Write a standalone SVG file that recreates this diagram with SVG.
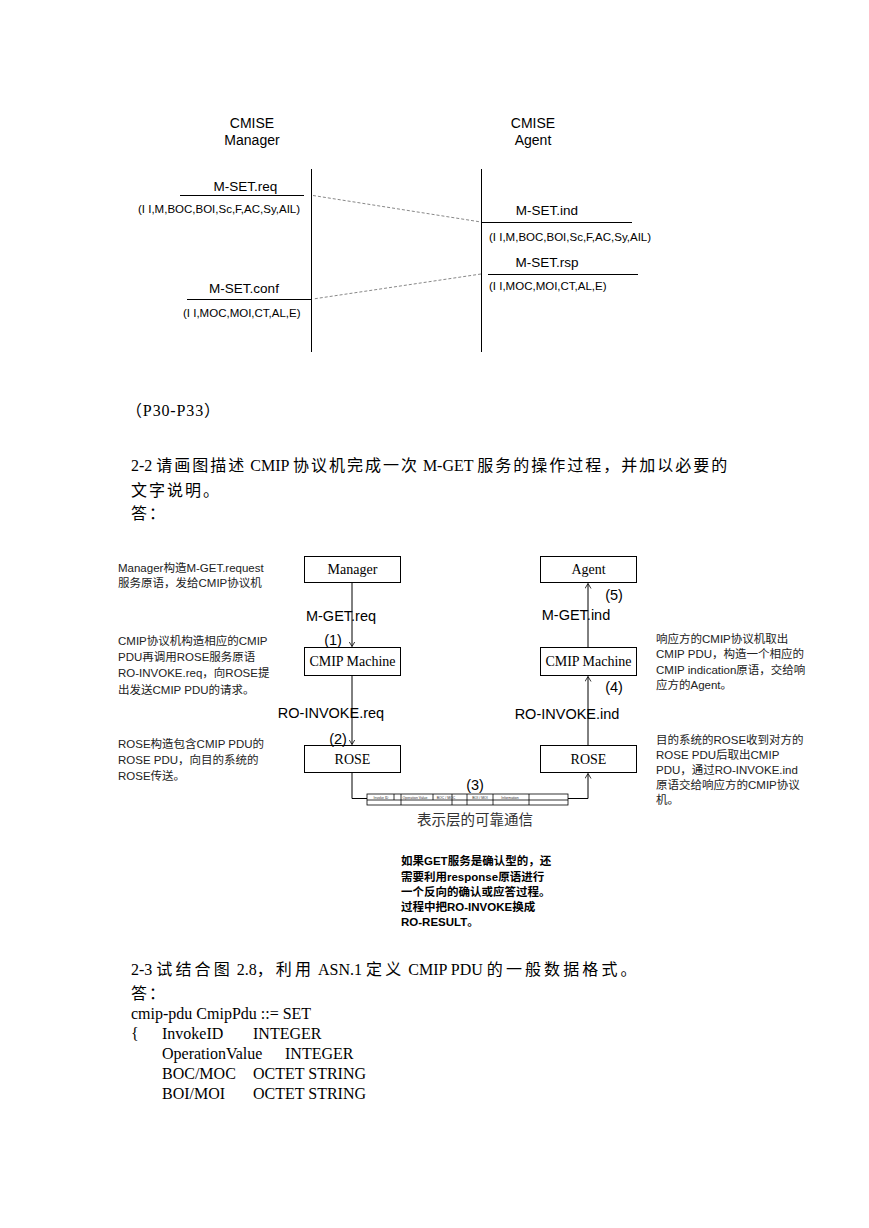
<svg xmlns="http://www.w3.org/2000/svg" width="869" height="1228" viewBox="0 0 869 1228">
<style>
.sa{font-family:"Liberation Sans","Noto Sans CJK SC",sans-serif;fill:#000}
.sr{font-family:"Liberation Serif","Noto Sans CJK SC",serif;fill:#000}
.t14{font-size:14px}
.t135{font-size:13.5px}
.t115{font-size:11.5px}
.t16{font-size:16px}
.cj{letter-spacing:2px}
.cj2{letter-spacing:3.1px}
.note{font-family:"Liberation Sans","Noto Sans CJK SC",sans-serif;font-size:11.5px;fill:#222}
.bold{font-family:"Liberation Sans","Noto Sans CJK SC",sans-serif;font-size:11.5px;font-weight:bold;fill:#000}
.ln{stroke:#000;stroke-width:1;fill:none}
.dash{stroke:#888;stroke-width:1;stroke-dasharray:3,2;fill:none}
.box{fill:#fff;stroke:#000;stroke-width:1}
.bt{font-family:"Liberation Serif","Noto Sans CJK SC",serif;font-size:14px;fill:#000;text-anchor:middle}
.lbl{font-family:"Liberation Sans",sans-serif;font-size:14.5px;fill:#000}
.pdu{font-family:"Liberation Sans",sans-serif;font-size:3.5px;fill:#333;text-anchor:middle}
.thin{stroke:#000;stroke-width:0.8;fill:none}
</style>
<defs>
<marker id="arr" markerUnits="userSpaceOnUse" markerWidth="8" markerHeight="8" refX="5" refY="3" orient="auto">
<path d="M0,0 L5,3 L0,6" fill="none" stroke="#000" stroke-width="0.8"/>
</marker>
</defs>
<rect width="869" height="1228" fill="#fff"/>

<!-- Sequence diagram -->
<g id="seq-manager">
<text class="sa t14" x="252" y="128" text-anchor="middle">CMISE</text>
<text class="sa t14" x="252" y="145" text-anchor="middle">Manager</text>
<line class="ln" x1="311.5" y1="169" x2="311.5" y2="352"/>
</g>
<g id="seq-agent">
<text class="sa t14" x="533" y="128" text-anchor="middle">CMISE</text>
<text class="sa t14" x="533" y="145" text-anchor="middle">Agent</text>
<line class="ln" x1="481.5" y1="169" x2="481.5" y2="352"/>
</g>
<g id="mset-req">
<text class="sa t135" x="245.5" y="191" text-anchor="middle">M-SET.req</text>
<line class="ln" x1="180" y1="195.5" x2="304" y2="195.5"/>
<text class="sa t115" x="138" y="213">(I I,M,BOC,BOI,Sc,F,AC,Sy,AIL)</text>
</g>
<g id="mset-ind">
<text class="sa t135" x="547" y="215" text-anchor="middle">M-SET.ind</text>
<line class="ln" x1="481" y1="222.5" x2="632" y2="222.5"/>
<text class="sa t115" x="489" y="241">(I I,M,BOC,BOI,Sc,F,AC,Sy,AIL)</text>
</g>
<g id="mset-rsp">
<text class="sa t135" x="547" y="267" text-anchor="middle">M-SET.rsp</text>
<line class="ln" x1="488" y1="274.5" x2="638" y2="274.5"/>
<text class="sa t115" x="489" y="290">(I I,MOC,MOI,CT,AL,E)</text>
</g>
<g id="mset-conf">
<text class="sa t135" x="244" y="293" text-anchor="middle">M-SET.conf</text>
<line class="ln" x1="187" y1="299.5" x2="311" y2="299.5"/>
<text class="sa t115" x="183" y="317">(I I,MOC,MOI,CT,AL,E)</text>
</g>
<g id="seq-connectors">
<line class="dash" x1="313" y1="195.5" x2="481" y2="222"/>
<line class="dash" x1="481" y1="274" x2="313" y2="299"/>
</g>

<!-- Text -->
<g id="text-mid">
<text class="sr t16" x="126" y="416" textLength="94" lengthAdjust="spacing">（P30-P33）</text>
<text class="sr t16" x="131" y="471">2-2 <tspan class="cj">请画图描述</tspan> CMIP <tspan class="cj">协议机完成一次</tspan> M-GET <tspan class="cj">服务的操作过程，并加以必要的</tspan></text>
<text class="sr t16 cj" x="131" y="496">文字说明。</text>
<text class="sr t16 cj" x="131" y="519">答：</text>
</g>

<!-- CMIP flow diagram -->
<g id="connectors">
<line class="ln" x1="352" y1="583" x2="352" y2="646.5" marker-end="url(#arr)"/>
<line class="ln" x1="352" y1="676" x2="352" y2="744.5" marker-end="url(#arr)"/>
<path class="ln" d="M352,773 V798.5 H367"/>
<path class="ln" d="M568,798.5 H588 V773.5" marker-end="url(#arr)"/>
<line class="ln" x1="588" y1="745" x2="588" y2="676.5" marker-end="url(#arr)"/>
<line class="ln" x1="588" y1="647" x2="588" y2="583.5" marker-end="url(#arr)"/>
</g>
<g id="node-manager">
<rect class="box" x="304.5" y="556.5" width="96" height="26"/>
<text class="bt" x="352.5" y="574">Manager</text>
</g>
<g id="node-cmip-left">
<rect class="box" x="304.5" y="647.5" width="96" height="28"/>
<text class="bt" x="352.5" y="666">CMIP Machine</text>
</g>
<g id="node-rose-left">
<rect class="box" x="304.5" y="745.5" width="96" height="27"/>
<text class="bt" x="352.5" y="764">ROSE</text>
</g>
<g id="node-agent">
<rect class="box" x="540.5" y="556.5" width="96" height="26"/>
<text class="bt" x="588.5" y="574">Agent</text>
</g>
<g id="node-cmip-right">
<rect class="box" x="540.5" y="647.5" width="96" height="28"/>
<text class="bt" x="588.5" y="666">CMIP Machine</text>
</g>
<g id="node-rose-right">
<rect class="box" x="540.5" y="745.5" width="96" height="27"/>
<text class="bt" x="588.5" y="764">ROSE</text>
</g>
<g id="labels">
<text class="lbl" x="341" y="621" text-anchor="middle">M-GET.req</text>
<text class="lbl" x="333" y="645" text-anchor="middle">(1)</text>
<text class="lbl" x="331" y="718" text-anchor="middle">RO-INVOKE.req</text>
<text class="lbl" x="338" y="744" text-anchor="middle">(2)</text>
<text class="lbl" x="614" y="600" text-anchor="middle">(5)</text>
<text class="lbl" x="576" y="620" text-anchor="middle">M-GET.ind</text>
<text class="lbl" x="614" y="692" text-anchor="middle">(4)</text>
<text class="lbl" x="567" y="719" text-anchor="middle">RO-INVOKE.ind</text>
<text class="lbl" x="475" y="790" text-anchor="middle">(3)</text>
</g>
<g id="pdu">
<rect class="thin" x="367" y="794" width="201" height="11"/>
<line class="thin" x1="367" y1="800" x2="568" y2="800"/>
<line class="thin" x1="394" y1="794" x2="394" y2="800"/>
<line class="thin" x1="401" y1="794" x2="401" y2="805"/>
<line class="thin" x1="433" y1="794" x2="433" y2="800"/>
<line class="thin" x1="452" y1="794" x2="452" y2="805"/>
<line class="thin" x1="467" y1="794" x2="467" y2="805"/>
<line class="thin" x1="493" y1="794" x2="493" y2="805"/>
<line class="thin" x1="529" y1="794" x2="529" y2="805"/>
<text class="pdu" x="381" y="798.5">Invoke ID</text>
<text class="pdu" x="415" y="798.5">Operation Value</text>
<text class="pdu" x="446" y="798.5">BOC / MOC</text>
<text class="pdu" x="480" y="798.5">BOI / MOI</text>
<text class="pdu" x="510" y="798.5">Information</text>
</g>
<text class="sr" x="475" y="825" text-anchor="middle" style="font-size:14.5px;fill:#333">表示层的可靠通信</text>

<g id="notes-left">
<text class="note" x="118" y="572">Manager构造M-GET.request</text>
<text class="note" x="118" y="587">服务原语，发给CMIP协议机</text>
<text class="note" x="118" y="645">CMIP协议机构造相应的CMIP</text>
<text class="note" x="118" y="661">PDU再调用ROSE服务原语</text>
<text class="note" x="118" y="677">RO-INVOKE.req，向ROSE提</text>
<text class="note" x="118" y="694">出发送CMIP PDU的请求。</text>
<text class="note" x="118" y="748">ROSE构造包含CMIP PDU的</text>
<text class="note" x="118" y="764">ROSE PDU，向目的系统的</text>
<text class="note" x="118" y="780">ROSE传送。</text>
</g>
<g id="notes-right">
<text class="note" x="656" y="643">响应方的CMIP协议机取出</text>
<text class="note" x="656" y="658">CMIP PDU，构造一个相应的</text>
<text class="note" x="656" y="674">CMIP indication原语，交给响</text>
<text class="note" x="656" y="689">应方的Agent。</text>
<text class="note" x="656" y="744">目的系统的ROSE收到对方的</text>
<text class="note" x="656" y="759">ROSE PDU后取出CMIP</text>
<text class="note" x="656" y="774">PDU，通过RO-INVOKE.ind</text>
<text class="note" x="656" y="789">原语交给响应方的CMIP协议</text>
<text class="note" x="656" y="804">机。</text>
</g>
<g id="note-bold">
<text class="bold" x="401" y="865">如果GET服务是确认型的，还</text>
<text class="bold" x="401" y="881">需要利用response原语进行</text>
<text class="bold" x="401" y="896">一个反向的确认或应答过程。</text>
<text class="bold" x="401" y="911">过程中把RO-INVOKE换成</text>
<text class="bold" x="401" y="926">RO-RESULT。</text>
</g>

<g id="text-bottom">
<text class="sr t16" x="131" y="975">2-3 <tspan class="cj2">试结合图</tspan> 2.8<tspan class="cj2">，利用</tspan> ASN.1 <tspan class="cj2">定义</tspan> CMIP PDU <tspan class="cj2">的一般数据格式。</tspan></text>
<text class="sr t16 cj" x="131" y="999">答：</text>
<text class="sr t16" x="131" y="1019">cmip-pdu CmipPdu ::= SET</text>
<text class="sr t16" x="131" y="1039">{</text>
<text class="sr t16" x="162" y="1039">InvokeID</text>
<text class="sr t16" x="253" y="1039">INTEGER</text>
<text class="sr t16" x="162" y="1059">OperationValue</text>
<text class="sr t16" x="285" y="1059">INTEGER</text>
<text class="sr t16" x="162" y="1079">BOC/MOC</text>
<text class="sr t16" x="253" y="1079">OCTET STRING</text>
<text class="sr t16" x="162" y="1099">BOI/MOI</text>
<text class="sr t16" x="253" y="1099">OCTET STRING</text>
</g>
</svg>
